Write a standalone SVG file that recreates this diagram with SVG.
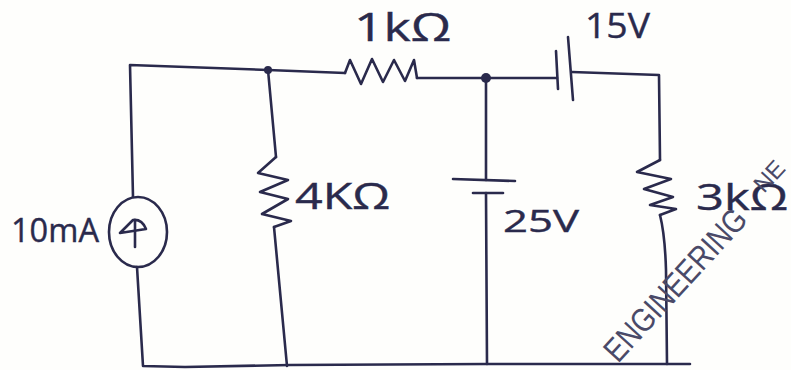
<svg xmlns="http://www.w3.org/2000/svg" width="791" height="370" viewBox="0 0 791 370">
<style>
.w{fill:none;stroke:#2a2a4c;stroke-width:2.6;stroke-linejoin:round;stroke-linecap:round}
.t{fill:#2a2a4c;font-family:"Open Sans","Liberation Sans",sans-serif;stroke:#2a2a4c;stroke-width:.4}
.d{fill:#2a2a4c}
.m{fill:#4a4a68;font-family:"Liberation Sans",sans-serif;font-size:33px}
</style>
<rect width="791" height="370" fill="#fefefc"/>
<g id="connectors">
<path class="w" d="M133 197L130 65L268 70L345 73"/>
<path class="w" d="M417 78L486 78L557 78"/>
<path class="w" d="M572 72L659 75L660 160"/>
<path class="w" d="M268 70L276 157"/>
<path class="w" d="M274 227L287 366"/>
<path class="w" d="M486 78L486 180"/>
<path class="w" d="M486 193L487 364"/>
<path class="w" d="M660 215Q665 235 666 270L667 364"/>
<path class="w" d="M137 267L143 366L185 367L290 365L487 364L690 364"/>
</g>
<g id="node-r1">
<path class="w" d="M345 73L350 60L361 84L372 59L383 82L394 60L405 81L414 60L417 78"/>
<text class="t" x="354" y="41" font-size="38" textLength="97" lengthAdjust="spacingAndGlyphs">1kΩ</text>
</g>
<g id="node-junction-a"><circle class="d" cx="268" cy="70" r="4"/></g>
<g id="node-junction-b"><circle class="d" cx="486" cy="78" r="5"/></g>
<g id="node-v15">
<path class="w" d="M556 51L558 89"/>
<path class="w" d="M568 37L573 100" stroke-width="3"/>
<text class="t" x="585" y="38" font-size="35" textLength="65" lengthAdjust="spacingAndGlyphs">15V</text>
</g>
<g id="node-source">
<ellipse class="w" cx="138" cy="232" rx="29" ry="35"/>
<path class="w" d="M120 233L133 220Q142 219 146 229Z"/>
<path class="w" d="M135 220L135 247"/>
<text class="t" x="11" y="242" font-size="33" textLength="88" lengthAdjust="spacingAndGlyphs">10mA</text>
</g>
<g id="node-r4">
<path class="w" d="M276 157L258 173L288 180L260 192L288 199L262 214L291 221L274 227"/>
<text class="t" x="295" y="209" font-size="36" textLength="95" lengthAdjust="spacingAndGlyphs">4KΩ</text>
</g>
<g id="node-v25">
<path class="w" d="M453 179L515 181"/>
<path class="w" d="M473 193L503 193"/>
<text class="t" x="503" y="232" font-size="31" textLength="76" lengthAdjust="spacingAndGlyphs">25V</text>
</g>
<g id="node-r3">
<path class="w" d="M660 160L637 172L671 179L644 189L673 197L650 205L676 209L660 215"/>
<text class="t" x="696" y="210" font-size="36" textLength="92" lengthAdjust="spacingAndGlyphs">3kΩ</text>
</g>
<text class="m" transform="translate(618 364) rotate(-47.5)" textLength="194" lengthAdjust="spacingAndGlyphs">ENGINEERING</text>
<text class="m" style="font-size:24px" transform="translate(764 194) rotate(-47.5)">NE</text>
</svg>
